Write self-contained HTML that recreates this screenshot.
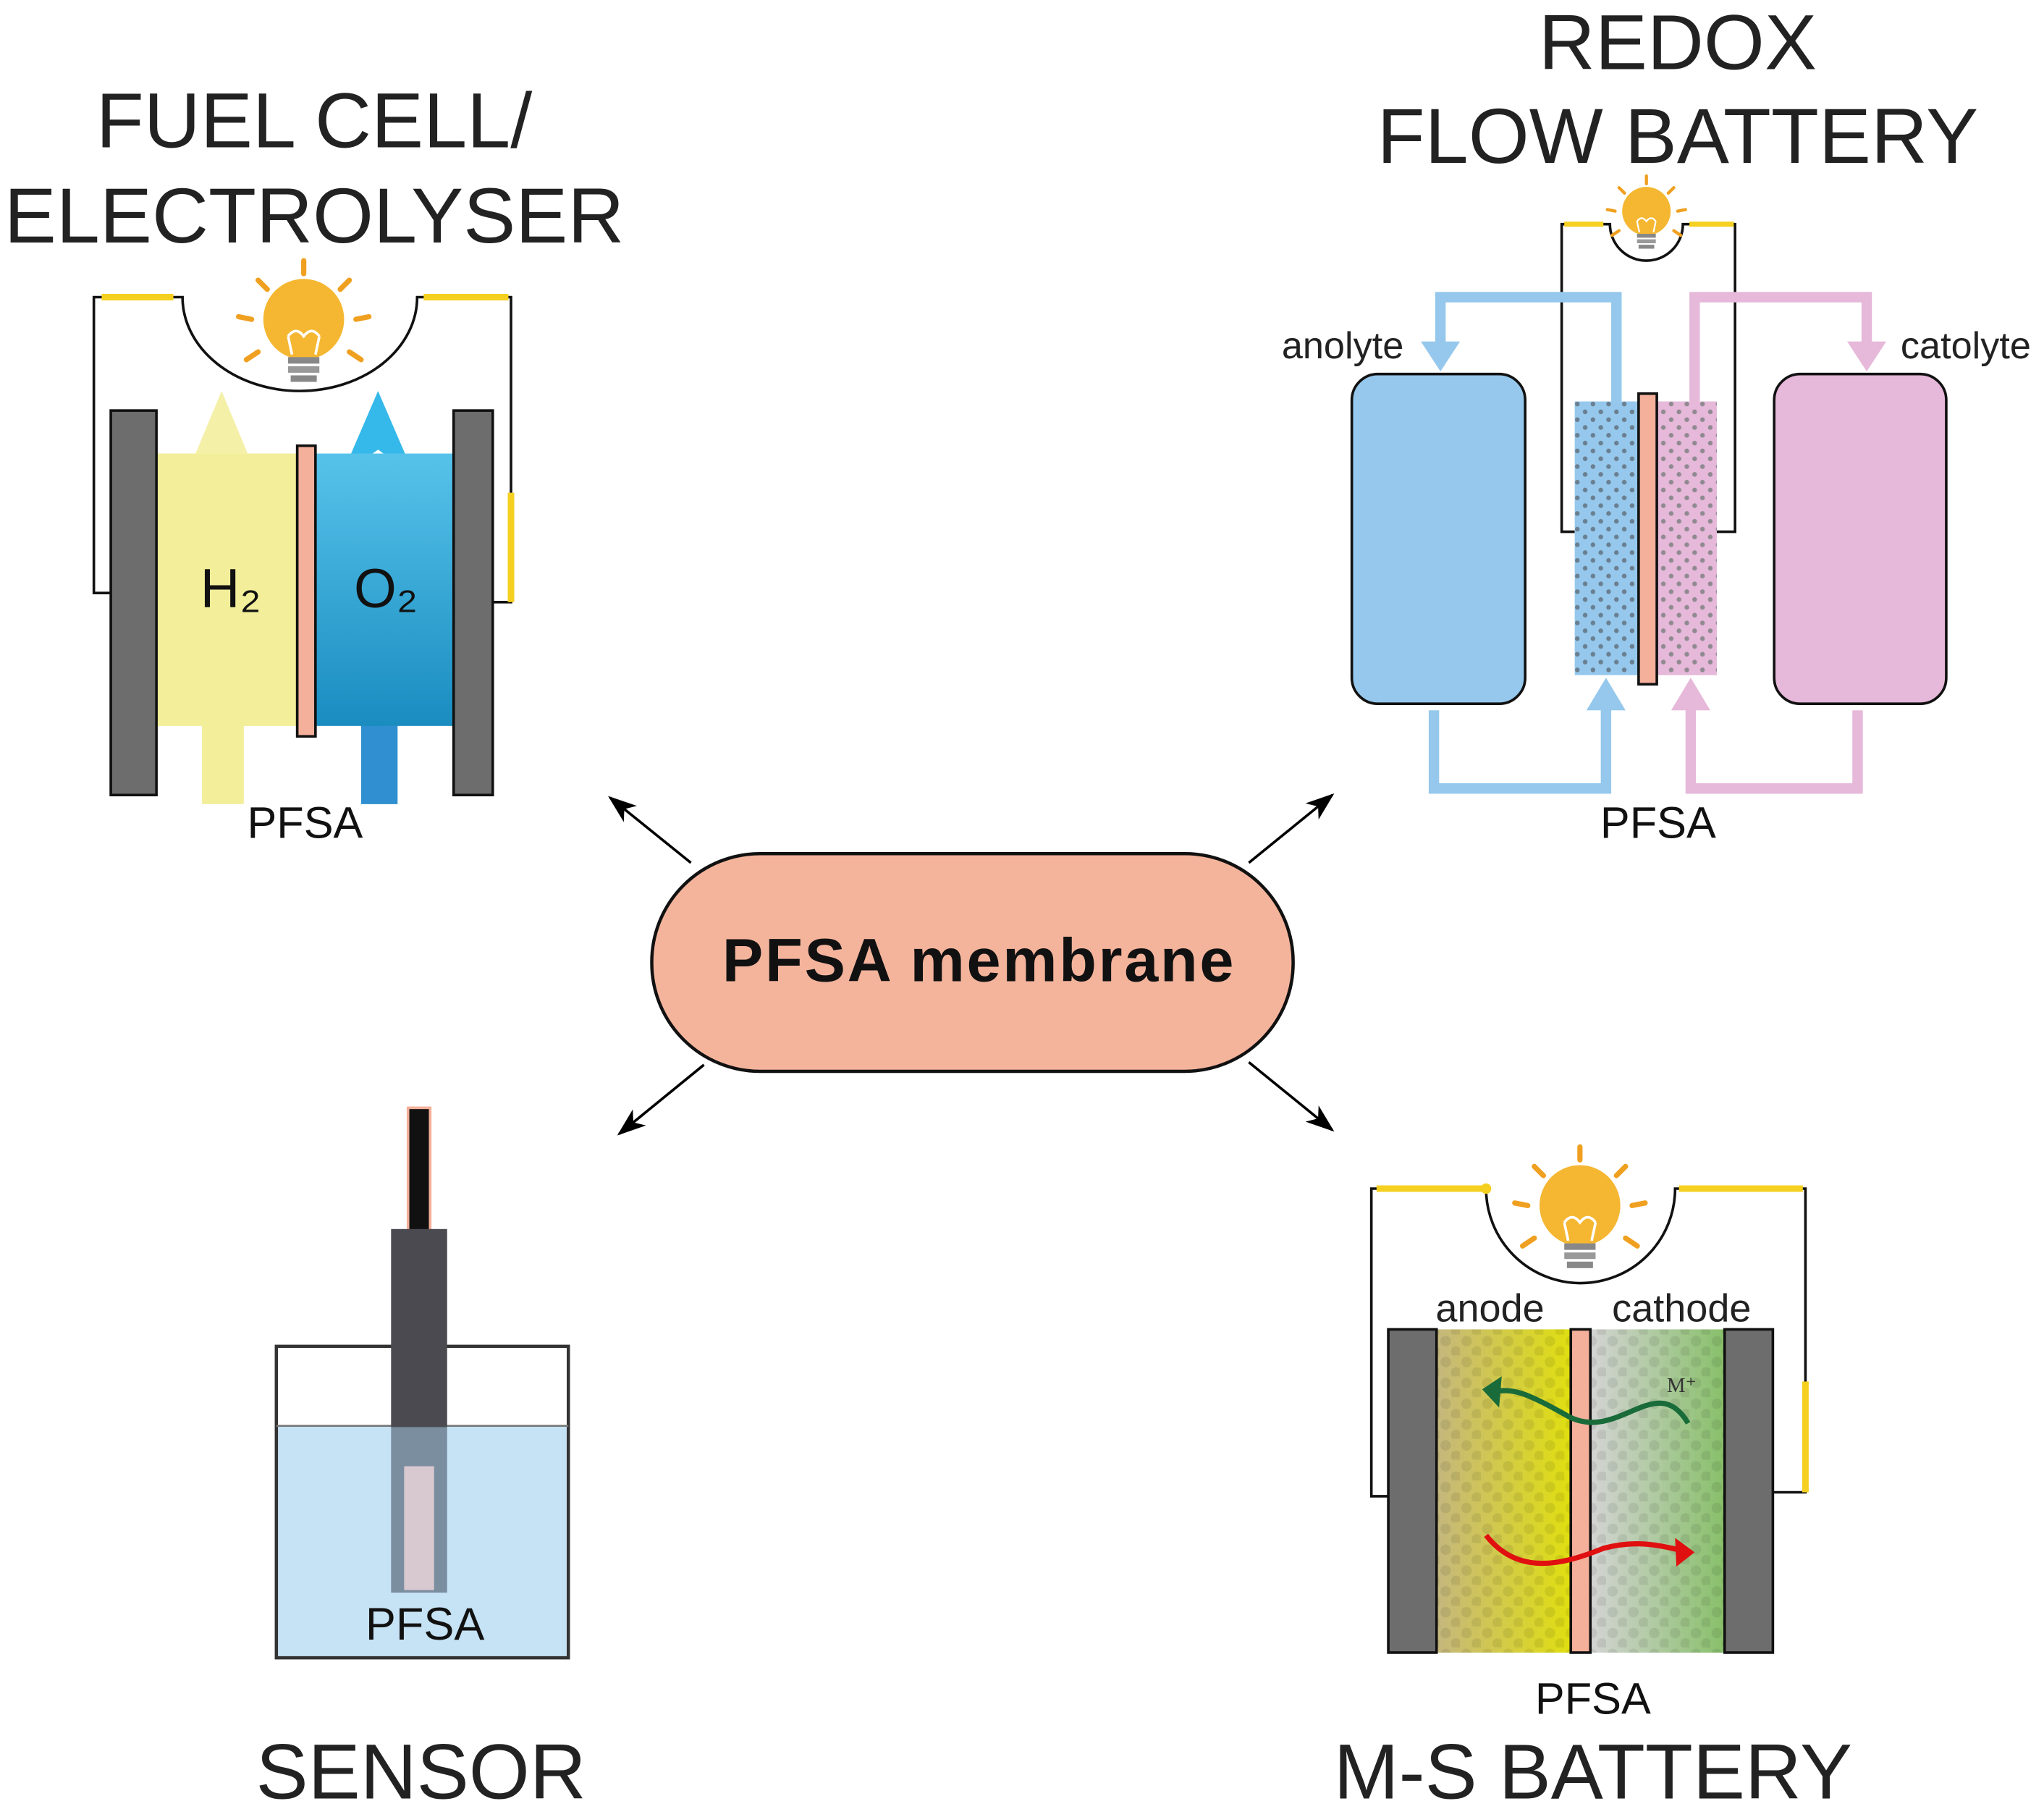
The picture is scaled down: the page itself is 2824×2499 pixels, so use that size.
<!DOCTYPE html>
<html><head><meta charset="utf-8"><style>html,body{margin:0;padding:0;background:#fff}svg{display:block}</style></head>
<body>
<svg width="2824" height="2499" viewBox="0 0 1568 1388" preserveAspectRatio="none" xmlns="http://www.w3.org/2000/svg" font-family="Liberation Sans, Arial, sans-serif">
<defs>
<linearGradient id="o2" x1="0" y1="0" x2="0" y2="1"><stop offset="0" stop-color="#56c3ea"/><stop offset="1" stop-color="#1a8cc0"/></linearGradient>
<linearGradient id="an" x1="0" y1="0" x2="1" y2="0"><stop offset="0" stop-color="#c5b77e"/><stop offset="1" stop-color="#e0df10"/></linearGradient>
<linearGradient id="ca" x1="0" y1="0" x2="1" y2="0"><stop offset="0" stop-color="#d4d4d4"/><stop offset="1" stop-color="#88c06a"/></linearGradient>
<pattern id="dotb" width="12" height="12" patternUnits="userSpaceOnUse"><rect width="12" height="12" fill="#95c8ec"/><circle cx="4" cy="4" r="1.8" fill="#6a7f90"/><circle cx="10" cy="10" r="1.8" fill="#6a7f90"/></pattern>
<pattern id="dotp" width="12" height="12" patternUnits="userSpaceOnUse"><rect width="12" height="12" fill="#e6b8d9"/><circle cx="4" cy="4" r="1.8" fill="#8f8a90"/><circle cx="10" cy="10" r="1.8" fill="#8f8a90"/></pattern>
<pattern id="dota" width="16" height="16" patternUnits="userSpaceOnUse"><circle cx="5" cy="5" r="4" fill="#000" opacity="0.08"/><circle cx="13" cy="13" r="4" fill="#000" opacity="0.08"/></pattern>
<g id="bulb">
<g stroke="#f0a020" stroke-width="4" stroke-linecap="round">
<line x1="0" y1="-40" x2="0" y2="-50"/><line x1="-28" y1="-28" x2="-35" y2="-35"/><line x1="28" y1="-28" x2="35" y2="-35"/>
<line x1="-40" y1="-5" x2="-50" y2="-7"/><line x1="40" y1="-5" x2="50" y2="-7"/><line x1="-35" y1="20" x2="-44" y2="26"/><line x1="35" y1="20" x2="44" y2="26"/></g>
<circle cx="0" cy="-5" r="31" fill="#f5b731"/>
<path d="M-9 22 L-12 8 M9 22 L12 8 M-12 8 Q-6 0 0 8 Q6 0 12 8" stroke="#fff" stroke-width="2" fill="none"/>
<rect x="-12" y="24" width="24" height="5" fill="#888"/><rect x="-12" y="31" width="24" height="5" fill="#999"/><rect x="-10" y="38" width="20" height="5" fill="#888"/>
</g>
<marker id="ah" markerWidth="22" markerHeight="16" refX="20" refY="8" orient="auto" markerUnits="userSpaceOnUse"><path d="M0 0 L22 8 L0 16 L6 8z" fill="#000"/></marker>
</defs>

<!-- FUEL CELL -->
<text x="241" y="113" font-size="60" text-anchor="middle" fill="#222">FUEL CELL/</text>
<text x="241" y="186" font-size="60" text-anchor="middle" fill="#222">ELECTROLYSER</text>
<path d="M86 455 H72 V228 H140 A90 72 0 0 0 320 228 H392 V462 H378" fill="none" stroke="#111" stroke-width="2"/>
<line x1="78" y1="228" x2="133" y2="228" stroke="#f5d020" stroke-width="5"/>
<line x1="325" y1="228" x2="390" y2="228" stroke="#f5d020" stroke-width="5"/>
<line x1="392" y1="378" x2="392" y2="462" stroke="#f5d020" stroke-width="5"/>
<use href="#bulb" x="233" y="250"/>
<polygon points="150,348 170,300 190,348" fill="#f4f0a8"/>
<polygon points="262,365 290,300 318,365 290,345" fill="#35b8ea"/>
<rect x="155" y="555" width="32" height="62" fill="#f2ee9a"/>
<rect x="277" y="555" width="28" height="62" fill="#2f8fd0"/>
<rect x="120" y="348" width="108" height="209" fill="#f2ee9a"/>
<rect x="242" y="348" width="106" height="209" fill="url(#o2)"/>
<rect x="228" y="342" width="14" height="223" fill="#f4b09a" stroke="#111" stroke-width="2"/>
<rect x="85" y="315" width="35" height="295" fill="#6d6d6d" stroke="#111" stroke-width="2"/>
<rect x="348" y="315" width="30" height="295" fill="#6d6d6d" stroke="#111" stroke-width="2"/>
<text x="177" y="466" font-size="42" text-anchor="middle" fill="#111">H₂</text>
<text x="296" y="466" font-size="42" text-anchor="middle" fill="#111">O₂</text>
<text x="234" y="643" font-size="34" text-anchor="middle" fill="#111">PFSA</text>

<!-- REDOX -->
<text x="1287" y="53" font-size="60" text-anchor="middle" fill="#222">REDOX</text>
<text x="1287" y="125" font-size="60" text-anchor="middle" fill="#222">FLOW BATTERY</text>
<path d="M1208 408 H1198 V172 H1235 A28 28 0 0 0 1291 172 H1331 V408 H1317" fill="none" stroke="#111" stroke-width="2"/>
<line x1="1200" y1="172" x2="1230" y2="172" stroke="#f5d020" stroke-width="4"/>
<line x1="1296" y1="172" x2="1330" y2="172" stroke="#f5d020" stroke-width="4"/>
<use href="#bulb" x="1263" y="165" transform="translate(1263 165) scale(0.6) translate(-1263 -165)"/>
<g fill="none" stroke-width="8">
<path d="M1240 308 V228 H1105 V272" stroke="#95c8ec"/>
<path d="M1100 545 V605 H1232 V538" stroke="#95c8ec"/>
<path d="M1300 308 V228 H1432 V272" stroke="#e6b8d9"/>
<path d="M1425 545 V605 H1297 V538" stroke="#e6b8d9"/>
</g>
<polygon points="1090,262 1120,262 1105,285" fill="#95c8ec"/>
<polygon points="1217,545 1247,545 1232,520" fill="#95c8ec"/>
<polygon points="1417,262 1447,262 1432,285" fill="#e6b8d9"/>
<polygon points="1282,545 1312,545 1297,520" fill="#e6b8d9"/>
<rect x="1037" y="287" width="133" height="253" rx="20" fill="#95c8ec" stroke="#111" stroke-width="2"/>
<rect x="1361" y="287" width="132" height="253" rx="20" fill="#e6b8d9" stroke="#111" stroke-width="2"/>
<rect x="1208" y="308" width="49" height="210" fill="url(#dotb)"/>
<rect x="1271" y="308" width="46" height="210" fill="url(#dotp)"/>
<rect x="1257" y="302" width="14" height="223" fill="#f4b09a" stroke="#111" stroke-width="2"/>
<text x="1030" y="275" font-size="29" text-anchor="middle" fill="#222">anolyte</text>
<text x="1508" y="275" font-size="29" text-anchor="middle" fill="#222">catolyte</text>
<text x="1272" y="643" font-size="34" text-anchor="middle" fill="#111">PFSA</text>

<!-- CENTER -->
<g stroke="#000" stroke-width="2" marker-end="url(#ah)">
<line x1="530" y1="662" x2="468" y2="612"/><line x1="958" y1="662" x2="1022" y2="610"/>
<line x1="540" y1="817" x2="475" y2="870"/><line x1="958" y1="815" x2="1022" y2="867"/>
</g>
<rect x="500" y="655" width="492" height="167" rx="83" fill="#f4b49c" stroke="#111" stroke-width="2.5"/>
<text x="751" y="753" font-size="47" font-weight="bold" text-anchor="middle" letter-spacing="1.5" fill="#111">PFSA membrane</text>

<!-- SENSOR -->
<rect x="212" y="1094" width="224" height="178" fill="#c6e2f5"/>
<rect x="212" y="1033" width="224" height="239" fill="none" stroke="#333" stroke-width="2.5"/>
<line x1="212" y1="1094" x2="436" y2="1094" stroke="#777" stroke-width="1.5"/>
<rect x="313" y="850" width="17" height="95" fill="#111" stroke="#f4b09a" stroke-width="2"/>
<rect x="300" y="943" width="43" height="152" fill="#4a4a50"/>
<rect x="300" y="1095" width="43" height="127" fill="#7a8ea0"/>
<rect x="310" y="1125" width="23" height="95" fill="#d8c8d0"/>
<text x="326" y="1258" font-size="35" text-anchor="middle" fill="#111">PFSA</text>
<text x="323" y="1380" font-size="60" text-anchor="middle" fill="#222">SENSOR</text>

<!-- M-S BATTERY -->
<path d="M1065 1148 H1052 V912 H1140 A72 72 0 0 0 1285 912 H1385 V1145 H1360" fill="none" stroke="#111" stroke-width="2"/>
<line x1="1056" y1="912" x2="1138" y2="912" stroke="#f5d020" stroke-width="5"/>
<line x1="1288" y1="912" x2="1383" y2="912" stroke="#f5d020" stroke-width="5"/>
<line x1="1385" y1="1060" x2="1385" y2="1145" stroke="#f5d020" stroke-width="5"/>
<circle cx="1140" cy="912" r="4" fill="#f5d020"/>
<use href="#bulb" x="1212" y="930"/>
<rect x="1102" y="1020" width="103" height="248" fill="url(#an)"/>
<rect x="1220" y="1020" width="103" height="248" fill="url(#ca)"/>
<rect x="1102" y="1020" width="221" height="248" fill="url(#dota)"/>
<rect x="1205" y="1020" width="15" height="248" fill="#f4b09a" stroke="#111" stroke-width="2"/>
<rect x="1065" y="1020" width="37" height="248" fill="#6d6d6d" stroke="#111" stroke-width="2"/>
<rect x="1323" y="1020" width="37" height="248" fill="#6d6d6d" stroke="#111" stroke-width="2"/>
<text x="1143" y="1014" font-size="30" text-anchor="middle" fill="#222">anode</text>
<text x="1290" y="1014" font-size="30" text-anchor="middle" fill="#222">cathode</text>
<text x="1290" y="1068" font-size="16" font-family="Liberation Serif, serif" text-anchor="middle" fill="#333">M⁺</text>
<path d="M1295 1092 C1270 1050 1240 1110 1200 1085 C1170 1068 1160 1065 1145 1068" fill="none" stroke="#1a6b3a" stroke-width="4"/>
<polygon points="1137,1066 1152,1056 1150,1080" fill="#1a6b3a"/>
<path d="M1140 1178 C1165 1210 1200 1200 1230 1188 C1260 1180 1280 1188 1292 1190" fill="none" stroke="#e01010" stroke-width="4"/>
<polygon points="1300,1191 1285,1180 1286,1202" fill="#e01010"/>
<text x="1222" y="1315" font-size="34" text-anchor="middle" fill="#111">PFSA</text>
<text x="1222" y="1380" font-size="60" text-anchor="middle" fill="#222">M-S BATTERY</text>
</svg>
</body></html>
